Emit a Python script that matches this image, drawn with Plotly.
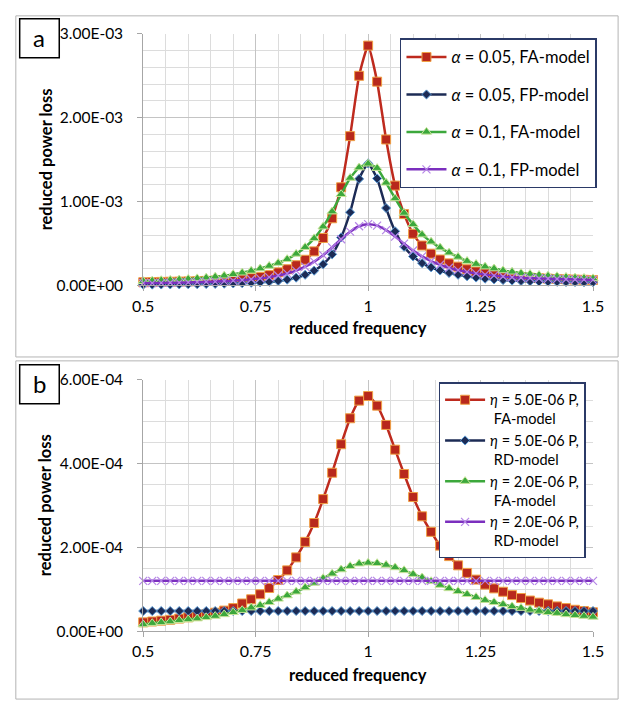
import plotly.graph_objects as go

W, H = 632, 710

# ---------------- data ----------------
freq = [0.50, 0.52, 0.54, 0.56, 0.58, 0.60, 0.62, 0.64, 0.66, 0.68,
        0.70, 0.72, 0.74, 0.76, 0.78, 0.80, 0.82, 0.84, 0.86, 0.88,
        0.90, 0.92, 0.94, 0.96, 0.98, 1.00, 1.02, 1.04, 1.06, 1.08,
        1.10, 1.12, 1.14, 1.16, 1.18, 1.20, 1.22, 1.24, 1.26, 1.28,
        1.30, 1.32, 1.34, 1.36, 1.38, 1.40, 1.42, 1.44, 1.46, 1.48, 1.50]

# panel a (values in units of 1e-3)
a005_fa = [0.037, 0.039, 0.041, 0.043, 0.045, 0.047, 0.050, 0.053, 0.057, 0.062,
           0.068, 0.076, 0.086, 0.100, 0.122, 0.155, 0.192, 0.240, 0.305, 0.405,
           0.565, 0.800, 1.170, 1.780, 2.500, 2.860, 2.430, 1.740, 1.190, 0.850,
           0.615, 0.475, 0.378, 0.308, 0.262, 0.223, 0.192, 0.165, 0.145, 0.130,
           0.118, 0.107, 0.099, 0.091, 0.085, 0.080, 0.076, 0.072, 0.069, 0.066, 0.064]
a005_fp = [0.008, 0.009, 0.010, 0.011, 0.012, 0.013, 0.014, 0.016, 0.018, 0.020,
           0.023, 0.026, 0.031, 0.036, 0.043, 0.053, 0.068, 0.092, 0.126, 0.175,
           0.252, 0.370, 0.572, 0.872, 1.270, 1.455, 1.275, 0.922, 0.645, 0.460,
           0.345, 0.265, 0.215, 0.177, 0.147, 0.126, 0.108, 0.093, 0.080, 0.071,
           0.063, 0.057, 0.052, 0.049, 0.046, 0.044, 0.042, 0.040, 0.039, 0.038, 0.037]
a01_fa = [0.049, 0.055, 0.060, 0.064, 0.069, 0.076, 0.083, 0.091, 0.102, 0.114,
          0.132, 0.150, 0.173, 0.200, 0.231, 0.266, 0.312, 0.375, 0.455, 0.560,
          0.700, 0.880, 1.087, 1.281, 1.405, 1.450, 1.398, 1.223, 1.037, 0.863,
          0.727, 0.605, 0.520, 0.450, 0.390, 0.339, 0.289, 0.254, 0.223, 0.200,
          0.177, 0.161, 0.145, 0.134, 0.122, 0.114, 0.107, 0.099, 0.092, 0.087, 0.083]
a01_fp = [0.026, 0.027, 0.029, 0.031, 0.033, 0.035, 0.038, 0.041, 0.045, 0.050,
          0.056, 0.063, 0.072, 0.083, 0.098, 0.117, 0.142, 0.176, 0.222, 0.283,
          0.360, 0.452, 0.550, 0.640, 0.705, 0.730, 0.712, 0.658, 0.582, 0.497,
          0.415, 0.345, 0.290, 0.245, 0.210, 0.182, 0.160, 0.142, 0.128, 0.116,
          0.105, 0.097, 0.091, 0.086, 0.082, 0.079, 0.076, 0.073, 0.070, 0.068, 0.066]

# panel b (values in units of 1e-5)
b5_fa = [2.1, 2.3, 2.5, 2.7, 3.0, 3.3, 3.6, 4.0, 4.4, 4.9,
         5.5, 6.6, 7.6, 8.8, 10.3, 12.2, 14.5, 17.6, 21.3, 25.8,
         31.5, 37.8, 44.6, 50.8, 55.0, 56.1, 53.8, 49.2, 43.3, 37.5,
         32.0, 27.4, 23.7, 20.4, 17.9, 15.7, 13.9, 12.3, 11.1, 10.2,
         9.4, 8.6, 7.9, 7.3, 6.8, 6.4, 5.9, 5.5, 5.1, 4.8, 4.5]
b5_rd = [4.8, 4.8, 4.8, 4.8, 4.8, 4.8, 4.8, 4.8, 4.8, 4.8,
         4.8, 4.8, 4.8, 4.8, 4.8, 4.8, 4.8, 4.8, 4.8, 4.8,
         4.8, 4.8, 4.8, 4.8, 4.8, 4.8, 4.8, 4.8, 4.8, 4.8,
         4.8, 4.8, 4.8, 4.8, 4.8, 4.8, 4.8, 4.8, 4.8, 4.8,
         4.8, 4.8, 4.8, 4.8, 4.8, 4.8, 4.8, 4.8, 4.8, 4.8, 4.8]
b2_fa = [1.6, 1.9, 2.1, 2.3, 2.6, 2.8, 3.0, 3.3, 3.6, 4.0,
         4.5, 5.0, 5.6, 6.2, 6.9, 7.7, 8.5, 9.4, 10.4, 11.5,
         12.6, 13.7, 14.7, 15.5, 16.1, 16.3, 16.2, 15.8, 15.2, 14.5,
         13.6, 12.8, 11.9, 11.0, 10.2, 9.5, 8.8, 8.1, 7.4, 6.9,
         6.4, 5.9, 5.5, 5.1, 4.8, 4.5, 4.3, 4.0, 3.8, 3.6, 3.4]
b2_rd = [12.0, 12.0, 12.0, 12.0, 12.0, 12.0, 12.0, 12.0, 12.0, 12.0,
         12.0, 12.0, 12.0, 12.0, 12.0, 12.0, 12.0, 12.0, 12.0, 12.0,
         12.0, 12.0, 12.0, 12.0, 12.0, 12.0, 12.0, 12.0, 12.0, 12.0,
         12.0, 12.0, 12.0, 12.0, 12.0, 12.0, 12.0, 12.0, 12.0, 12.0,
         12.0, 12.0, 12.0, 12.0, 12.0, 12.0, 12.0, 12.0, 12.0, 12.0, 12.0]

names_a = ["<i>α</i> = 0.05, FA-model", "<i>α</i> = 0.05, FP-model",
           "<i>α</i> = 0.1, FA-model", "<i>α</i> = 0.1, FP-model"]
names_b = ["<i>η</i> = 5.0E-06 P,<br>\u00a0FA-model", "<i>η</i> = 5.0E-06 P,<br>\u00a0RD-model",
           "<i>η</i> = 2.0E-06 P,<br>\u00a0FA-model", "<i>η</i> = 2.0E-06 P,<br>\u00a0RD-model"]

x_tickvals = [0.5, 0.75, 1.0, 1.25, 1.5]
x_ticktext = ["0.5", "0.75", "1", "1.25", "1.5"]
ya_tickvals = [0, 1e-3, 2e-3, 3e-3]
ya_ticktext = ["0.00E+00", "1.00E-03", "2.00E-03", "3.00E-03"]
yb_tickvals = [0, 2e-4, 4e-4, 6e-4]
yb_ticktext = ["0.00E+00", "2.00E-04", "4.00E-04", "6.00E-04"]

FONT = "Lato"

# ---------------- styles ----------------
styles = [
    dict(line=dict(color="#BE2A1E", width=2.5),
         marker=dict(symbol="square", size=9, color="#B8281C", line=dict(color="#F0A045", width=1))),
    dict(line=dict(color="#1C2B55", width=2.5),
         marker=dict(symbol="diamond", size=7, color="#1C2B55", line=dict(color="#5B9BD5", width=1))),
    dict(line=dict(color="#3CA83C", width=2.5),
         marker=dict(symbol="triangle-up", size=9, color="#3CA83C", line=dict(color="#C8E49A", width=1))),
    dict(line=dict(color="#7B2FBE", width=2.5),
         marker=dict(symbol="x-thin-open", size=8, color="#B585E6", line=dict(color="#B585E6", width=1.2))),
]


def px_x(p):
    return p / W


def px_y(p):
    return 1 - p / H


fig = go.Figure()

series_a = [a005_fa, a005_fp, a01_fa, a01_fp]
for i, (vals, nm) in enumerate(zip(series_a, names_a)):
    fig.add_trace(go.Scatter(
        x=freq, y=[v * 1e-3 for v in vals], name=nm, mode="lines+markers",
        line=dict(shape="spline", smoothing=0.5, **styles[i]["line"]),
        marker=styles[i]["marker"], cliponaxis=False,
        xaxis="x", yaxis="y", legend="legend", legendgroup="a%d" % i))

series_b = [b5_fa, b5_rd, b2_fa, b2_rd]
for i, (vals, nm) in enumerate(zip(series_b, names_b)):
    fig.add_trace(go.Scatter(
        x=freq, y=[v * 1e-5 for v in vals], name=nm, mode="lines+markers",
        line=dict(shape="spline", smoothing=0.5, **styles[i]["line"]),
        marker=styles[i]["marker"], cliponaxis=False,
        xaxis="x2", yaxis="y2", legend="legend2", legendgroup="b%d" % i))

xdom = [px_x(137), px_x(603)]
ya_dom = [px_y(282.5), px_y(24.5)]
yb_dom = [px_y(637.3), px_y(379.3)]

TICKSIZE = 15.5

common_x = dict(
    domain=xdom, range=[0.5, 1.5], tickvals=x_tickvals, ticktext=x_ticktext,
    showgrid=True, gridcolor="#C4C4C4", gridwidth=1,
    minor=dict(dtick=0.05, tick0=0.5, showgrid=True, gridcolor="#DCDCDC", gridwidth=1),
    showline=True, linecolor="#A6A6A6", linewidth=1,
    ticks="outside", ticklen=5, tickcolor="#A6A6A6",
    tickfont=dict(family=FONT, size=16, color="#000"), zeroline=False,
    ticklabelstandoff=1, fixedrange=True)

common_y = dict(
    showgrid=True, gridcolor="#C4C4C4", gridwidth=1,
    showline=True, linecolor="#A6A6A6", linewidth=1,
    ticks="outside", ticklen=5, tickcolor="#A6A6A6",
    tickfont=dict(family=FONT, size=TICKSIZE, color="#000"), zeroline=False,
    ticklabelstandoff=11, fixedrange=True)

fig.update_layout(
    width=W, height=H, margin=dict(l=0, r=0, t=0, b=0),
    paper_bgcolor="white", plot_bgcolor="white",
    font=dict(family=FONT, size=15, color="#000"),
    xaxis=dict(anchor="y", **common_x),
    xaxis2=dict(anchor="y2", **common_x),
    yaxis=dict(anchor="x", domain=ya_dom, range=[0, 3e-3], tickvals=ya_tickvals, ticktext=ya_ticktext,
               minor=dict(dtick=2e-4, tick0=0, showgrid=True, gridcolor="#DCDCDC", gridwidth=1),
               **common_y),
    yaxis2=dict(anchor="x2", domain=yb_dom, range=[0, 6e-4], tickvals=yb_tickvals, ticktext=yb_ticktext,
                minor=dict(dtick=5e-5, tick0=0, showgrid=True, gridcolor="#DCDCDC", gridwidth=1),
                **common_y),
    legend=dict(x=px_x(403), y=px_y(29), xanchor="left", yanchor="top",
                bgcolor="white", bordercolor="#2B3A67", borderwidth=1.5,
                font=dict(family=FONT, size=16.5, color="#000"), tracegroupgap=13,
                itemwidth=40, traceorder="grouped"),
    legend2=dict(x=px_x(443), y=px_y(382), xanchor="left", yanchor="top",
                 bgcolor="white", bordercolor="#2B3A67", borderwidth=1.5,
                 font=dict(family=FONT, size=14.5, color="#000"), tracegroupgap=0,
                 itemwidth=40, traceorder="grouped", valign="top"),
    showlegend=True,
)

# frames and label boxes
shapes = [
    dict(type="rect", xref="paper", yref="paper", x0=px_x(5), x1=px_x(629), y0=px_y(356), y1=px_y(6),
         line=dict(color="#B4B4B4", width=1), layer="below"),
    dict(type="rect", xref="paper", yref="paper", x0=px_x(5), x1=px_x(629), y0=px_y(707), y1=px_y(360),
         line=dict(color="#B4B4B4", width=1), layer="below"),
    dict(type="rect", xref="paper", yref="paper", x0=px_x(9), x1=px_x(50), y0=px_y(49), y1=px_y(9),
         line=dict(color="#000", width=1.5), fillcolor="white"),
    dict(type="rect", xref="paper", yref="paper", x0=px_x(9), x1=px_x(50), y0=px_y(404), y1=px_y(364),
         line=dict(color="#000", width=1.5), fillcolor="white"),
]
fig.update_layout(shapes=shapes)

ann = [
    dict(text="a", x=px_x(29.5), y=px_y(28), font=dict(size=24)),
    dict(text="b", x=px_x(29.5), y=px_y(383), font=dict(size=24)),
    dict(text="<b>reduced power loss</b>", x=px_x(36), y=px_y(153.5), textangle=-90, font=dict(size=16.5)),
    dict(text="<b>reduced power loss</b>", x=px_x(36), y=px_y(508.3), textangle=-90, font=dict(size=16.5)),
    dict(text="<b>reduced frequency</b>", x=px_x(359), y=px_y(326), font=dict(size=16.5)),
    dict(text="<b>reduced frequency</b>", x=px_x(359), y=px_y(682), font=dict(size=16.5)),
]
for a in ann:
    fig.add_annotation(xref="paper", yref="paper", showarrow=False, xanchor="center", yanchor="middle",
                       **{k: v for k, v in a.items() if k != "font"},
                       font=dict(family=FONT, color="#000", **a["font"]))

fig.write_html("out.html", config={"displayModeBar": False, "staticPlot": False},
               post_script="document.body.style.margin='0';document.body.style.overflow='hidden';")
